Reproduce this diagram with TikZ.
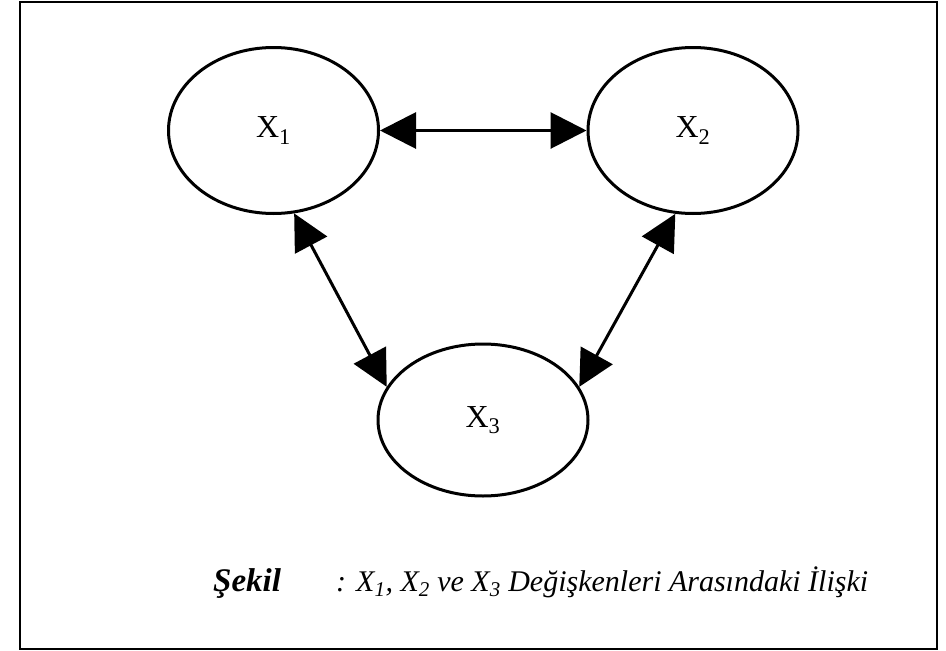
\documentclass[tikz,border=0pt]{standalone}
\usepackage{fontspec}
\setmainfont{Liberation Serif}
\usetikzlibrary{shapes.geometric,arrows.meta}
\begin{document}
\begin{tikzpicture}[x=1pt,y=-1pt,
  var/.style={ellipse,draw,line width=3pt,minimum width=210pt,minimum height=166pt,inner sep=0pt,font=\fontsize{32}{38}\selectfont},
  link/.style={line width=3pt,{Triangle[length=36pt,width=36pt]}-{Triangle[length=36pt,width=36pt]}},
  captext/.style={anchor=base west,inner sep=0pt,font=\fontsize{30}{36}\selectfont\itshape},
  frame/.style={line width=2.5pt}]
\useasboundingbox (0,0) rectangle (946,651);
\draw[frame] (20,2) rectangle (937,649);
\node[var] (x1) at (273.5,130.5) {X\textsubscript{1}};
\node[var] (x2) at (693,130.5) {X\textsubscript{2}};
\node[var] (x3) at (483,420) [minimum height=152pt] {X\textsubscript{3}};
\draw[link] (x1.east) -- (x2.west);
\draw[link] (x1.-76) -- (x3.161);
\draw[link] (x2.-102) -- (x3.19);
\node[captext,font=\fontsize{33}{40}\selectfont\bfseries\itshape] (sekil) at (213,591) {Şekil};
\node[captext] (caption) at (336,591) {: X\textsubscript{1}, X\textsubscript{2} ve X\textsubscript{3} Değişkenleri Arasındaki İlişki};
\end{tikzpicture}
\end{document}
